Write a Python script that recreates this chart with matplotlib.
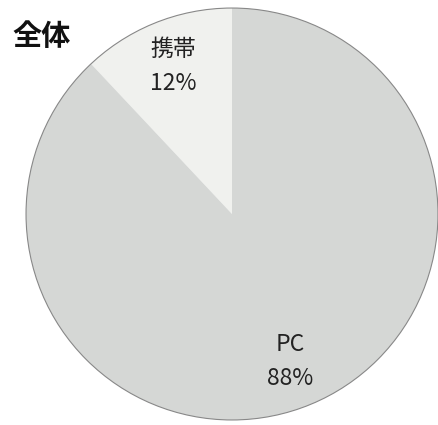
import matplotlib
matplotlib.use("Agg")
import matplotlib.pyplot as plt
from matplotlib.patches import Circle

plt.rcParams['font.family'] = ['Noto Sans CJK JP', 'DejaVu Sans']

# data
labels = ['携帯', 'PC']
shares = [12, 88]
colors = ['#f0f1ee', '#d5d7d5']
title = '全体'

fig = plt.figure(figsize=(4.39, 4.25), dpi=100)
# pie box: centre (232, 214) px, radius ~207 px
ax = fig.add_axes([25 / 439, 4 / 425, 414 / 439, 414 / 425])

texts = [f"{l}\n{v}%" for l, v in zip(labels, shares)]
wedges, lbls = ax.pie(shares, labels=texts, colors=colors, startangle=90,
                      labeldistance=0.77,
                      textprops=dict(fontsize=16.5, color='#222222',
                                     ha='center', va='center', linespacing=1.6))
ax.add_patch(Circle((0, 0), 1, fill=False, edgecolor='#888888', lw=0.8))
ax.set_xlim(-1.005, 1.005)
ax.set_ylim(-1.005, 1.005)
ax.set_aspect('equal')

fig.text(12 / 439, 1 - 36 / 425, title, fontsize=21, fontweight='bold',
         color='#111111', ha='left', va='center')

fig.savefig('out.png', dpi=100)
